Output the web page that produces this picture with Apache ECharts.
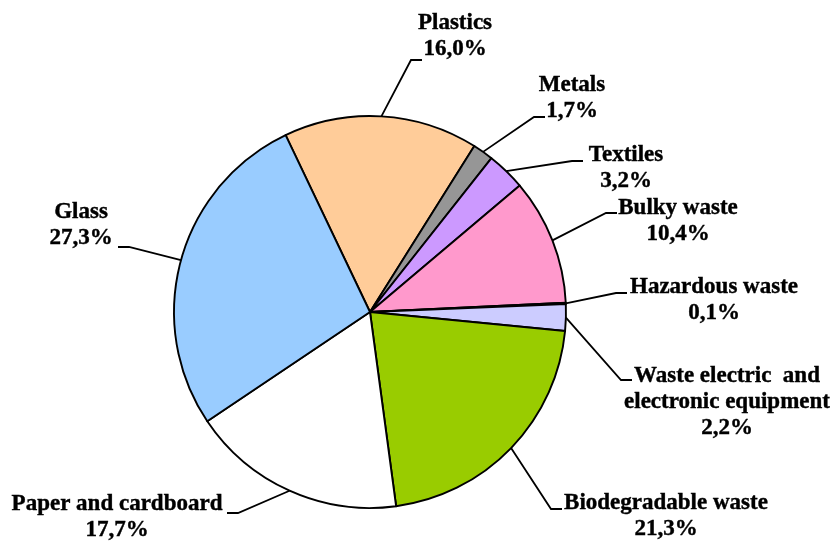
<!DOCTYPE html>
<html>
<head>
<meta charset="utf-8">
<title>Waste composition</title>
<script src="https://cdn.jsdelivr.net/npm/echarts@6/dist/echarts.min.js"></script>
<style>
  html, body { margin: 0; padding: 0; background: #ffffff; }
  #chart { width: 832px; height: 543px; }
</style>
</head>
<body>
<div id="chart"></div>
<script>
// Waste fractions, in percent, listed clockwise starting with Plastics
const categories = [
  'Plastics',
  'Metals',
  'Textiles',
  'Bulky waste',
  'Hazardous waste',
  'Waste electric  and\nelectronic equipment',
  'Biodegradable waste',
  'Paper and cardboard',
  'Glass'
];
const shares = [16.0, 1.7, 3.2, 10.4, 0.1, 2.2, 21.3, 17.7, 27.3];

// Fill colour for each fraction
const sliceColors = [
  '#FFCC99', '#969696', '#CC99FF', '#FF99CC', '#1a1a1a',
  '#CCCCFF', '#99CC00', '#FFFFFF', '#99CCFF'
];

// Label placement: centre of the text block and the end of its leader line
const labelCenters = [
  [455, 36], [572, 98], [626, 168], [678, 221], [714, 300],
  [727, 402], [666, 516], [117, 517], [81, 225]
];
const leaderEnds = [
  [422, 60], [545, 117], [583, 161], [617, 213], [627, 293],
  [632, 380], [562, 509], [227, 513], [118, 247]
];

const chart = echarts.init(document.getElementById('chart'), null, { renderer: 'canvas' });

const fmt = v => v.toFixed(1).replace('.', ',') + '%';

chart.setOption({
  animation: false,
  backgroundColor: '#ffffff',
  series: [{
    type: 'pie',
    center: [370, 312],
    radius: 196,
    startAngle: 115.5,
    clockwise: true,
    avoidLabelOverlap: false,
    minShowLabelAngle: 0,
    data: categories.map((name, i) => ({
      name: name,
      value: shares[i],
      itemStyle: { color: sliceColors[i] }
    })),
    itemStyle: {
      borderColor: '#000000',
      borderWidth: 1.9
    },
    emphasis: { disabled: true },
    label: {
      show: true,
      position: 'outside',
      formatter: p => p.name + '\n' + fmt(p.value),
      fontFamily: '"Liberation Serif", "Times New Roman", serif',
      fontWeight: 'bold',
      fontSize: 23,
      lineHeight: 26,
      color: '#000000',
      textBorderColor: '#000000',
      textBorderWidth: 0.4,
      align: 'center'
    },
    labelLine: {
      show: true,
      length: 20,
      length2: 10,
      smooth: false,
      lineStyle: { color: '#000000', width: 1.8 }
    },
    labelLayout: function (params) {
      const i = params.dataIndex;
      const c = labelCenters[i];
      const e = leaderEnds[i];
      const start = params.labelLinePoints ? params.labelLinePoints[0] : e;
      const dir = e[0] < start[0] ? 1 : -1;
      const elbow = [e[0] + dir * 11, e[1]];
      return {
        x: c[0],
        y: c[1],
        align: 'center',
        verticalAlign: 'middle',
        labelLinePoints: [start, elbow, e]
      };
    }
  }]
});
</script>
</body>
</html>
